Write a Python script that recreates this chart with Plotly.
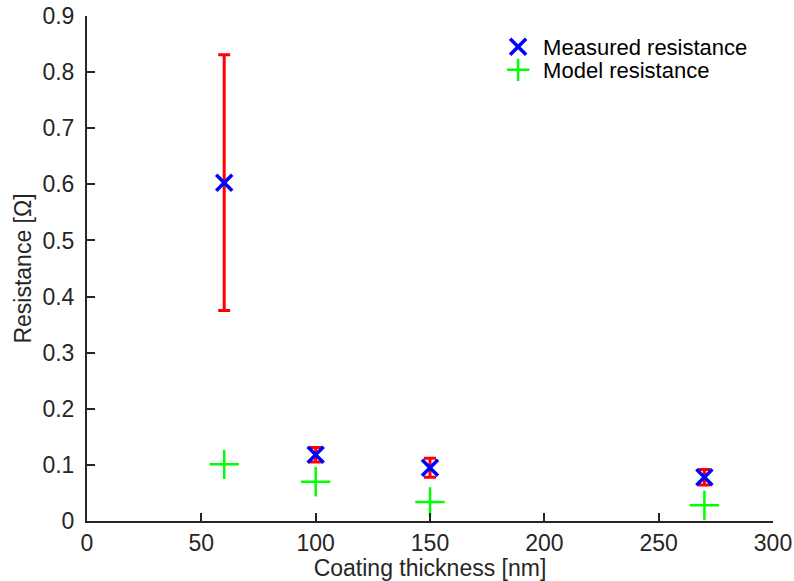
import plotly.graph_objects as go

thickness = [60, 100, 150, 270]
measured = [0.603, 0.118, 0.095, 0.078]
measured_err = [0.228, 0.013, 0.017, 0.014]
model = [0.101, 0.070, 0.034, 0.028]

FONT = "Liberation Sans, Arial, Helvetica, sans-serif"

fig = go.Figure()
fig.add_trace(go.Scatter(
    x=thickness, y=measured, mode="markers", name="Measured resistance",
    legend="legend",
    marker=dict(symbol="x-thin", size=16, color="blue", line=dict(color="blue", width=3.5)),
    error_y=dict(type="data", array=measured_err, visible=True, color="red", thickness=3, width=6),
))
fig.add_trace(go.Scatter(
    x=thickness, y=model, mode="markers", name="Model resistance",
    legend="legend2",
    marker=dict(symbol="cross-thin", size=21, color="#00ff00", line=dict(color="#00ff00", width=2.5)),
))

axis_common = dict(
    showline=True, linecolor="#262626", linewidth=2, ticks="inside", ticklen=8,
    tickwidth=2, tickcolor="#262626", showgrid=False, zeroline=False, mirror=False,
    automargin=False,
    tickfont=dict(family=FONT, size=23, color="#262626"),
    title_font=dict(family=FONT, size=23, color="#262626"),
)
fig.update_xaxes(range=[0, 300], tickvals=[0, 50, 100, 150, 200, 250, 300],
                 title_text="Coating thickness [nm]", title_standoff=2, **axis_common)
fig.update_yaxes(range=[0, 0.9], tickvals=[0, 0.1, 0.2, 0.3, 0.4, 0.5, 0.6, 0.7, 0.8, 0.9],
                 tickformat=".1~f", title_text="Resistance [Ω]", title_standoff=4,
                 ticklabelstandoff=6, **axis_common)

leg_common = dict(xanchor="left", yanchor="middle", bgcolor="rgba(0,0,0,0)",
                  font=dict(family=FONT, size=22, color="black"), itemwidth=40,
                  borderwidth=0)
fig.update_layout(
    width=794, height=581, margin=dict(l=87, r=21, t=16, b=60),
    plot_bgcolor="white", paper_bgcolor="white",
    legend=dict(x=0.592, y=0.9386, **leg_common),
    legend2=dict(x=0.592, y=0.893, **leg_common),
    showlegend=True,
)
fig.write_html("out.html")
